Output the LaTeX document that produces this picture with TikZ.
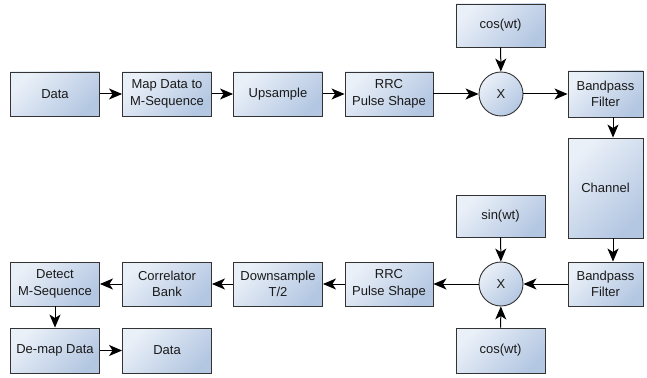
\documentclass[tikz,border=0pt]{standalone}
\usepackage{fontspec}
\setmainfont{Liberation Sans}
\usetikzlibrary{arrows.meta}
\definecolor{boxlight}{HTML}{EAF0F8}
\definecolor{boxdark}{HTML}{B4C7E2}
\definecolor{edgecol}{HTML}{333333}
\definecolor{txtcol}{HTML}{1A1A1A}
\tikzset{
  blockbox/.style={draw=edgecol, line width=0.9pt, top color=boxlight, bottom color=boxdark, shading angle=45,
    minimum width=89pt, minimum height=44pt, inner sep=0pt, align=center, text=txtcol,
    font=\fontsize{13}{16.5}\selectfont},
  mixer/.style={circle, draw=edgecol, line width=0.9pt, top color=boxlight, bottom color=boxdark, shading angle=45,
    minimum size=44pt, inner sep=0pt, text=txtcol, font=\fontsize{13}{16.5}\selectfont},
  conn/.style={draw=black, line width=1pt, -{Stealth[length=13pt,width=11pt,inset=3.5pt]}}
}
\begin{document}
\begin{tikzpicture}[x=1pt,y=-1pt]
\useasboundingbox (0,0) rectangle (647,377);
% top row
\node[blockbox] (data1) at (55,94) {Data};
\node[blockbox] (map) at (167,94) {Map Data to\\M-Sequence};
\node[blockbox] (up) at (278,94) {Upsample};
\node[blockbox, minimum width=88pt] (rrc1) at (389,94) {RRC\\Pulse Shape};
\node[mixer] (mix1) at (501,94) {X};
\node[blockbox, minimum height=43pt] (cos1) at (500.5,25.5) {cos(wt)};
\node[blockbox, minimum width=75pt, minimum height=46pt] (bp1) at (605.5,94) {Bandpass\\Filter};
\node[blockbox, minimum width=75pt, minimum height=100pt] (channel) at (605.5,188) {Channel};
% bottom part
\node[blockbox, minimum width=75pt] (bp2) at (605.5,284) {Bandpass\\Filter};
\node[mixer] (mix2) at (501,284) {X};
\node[blockbox, minimum height=42pt] (sin) at (500.5,216) {sin(wt)};
\node[blockbox, minimum height=45pt] (cos2) at (500.5,350.5) {cos(wt)};
\node[blockbox, minimum width=88pt] (rrc2) at (389,284) {RRC\\Pulse Shape};
\node[blockbox] (down) at (278,284) {Downsample\\T/2};
\node[blockbox] (corr) at (167,284) {Correlator\\Bank};
\node[blockbox] (detect) at (55,284) {Detect\\M-Sequence};
\node[blockbox, minimum height=45pt] (demap) at (55,350.5) {De-map Data};
\node[blockbox, minimum height=45pt] (data2) at (167,350.5) {Data};
% connectors
\draw[conn] (data1) -- (map);
\draw[conn] (map) -- (up);
\draw[conn] (up) -- (rrc1);
\draw[conn] (rrc1) -- (mix1);
\draw[conn] (cos1) -- (mix1);
\draw[conn] (mix1) -- (bp1);
\draw[conn] ([xshift=7.5pt]bp1.south) -- ([xshift=7.5pt]channel.north);
\draw[conn] ([xshift=7.5pt]channel.south) -- ([xshift=7.5pt]bp2.north);
\draw[conn] (bp2) -- (mix2);
\draw[conn] (sin) -- (mix2);
\draw[conn] (cos2) -- (mix2);
\draw[conn] (mix2) -- (rrc2);
\draw[conn] (rrc2) -- (down);
\draw[conn] (down) -- (corr);
\draw[conn] (corr) -- (detect);
\draw[conn] (detect) -- (demap);
\draw[conn] (demap) -- (data2);
\end{tikzpicture}
\end{document}
